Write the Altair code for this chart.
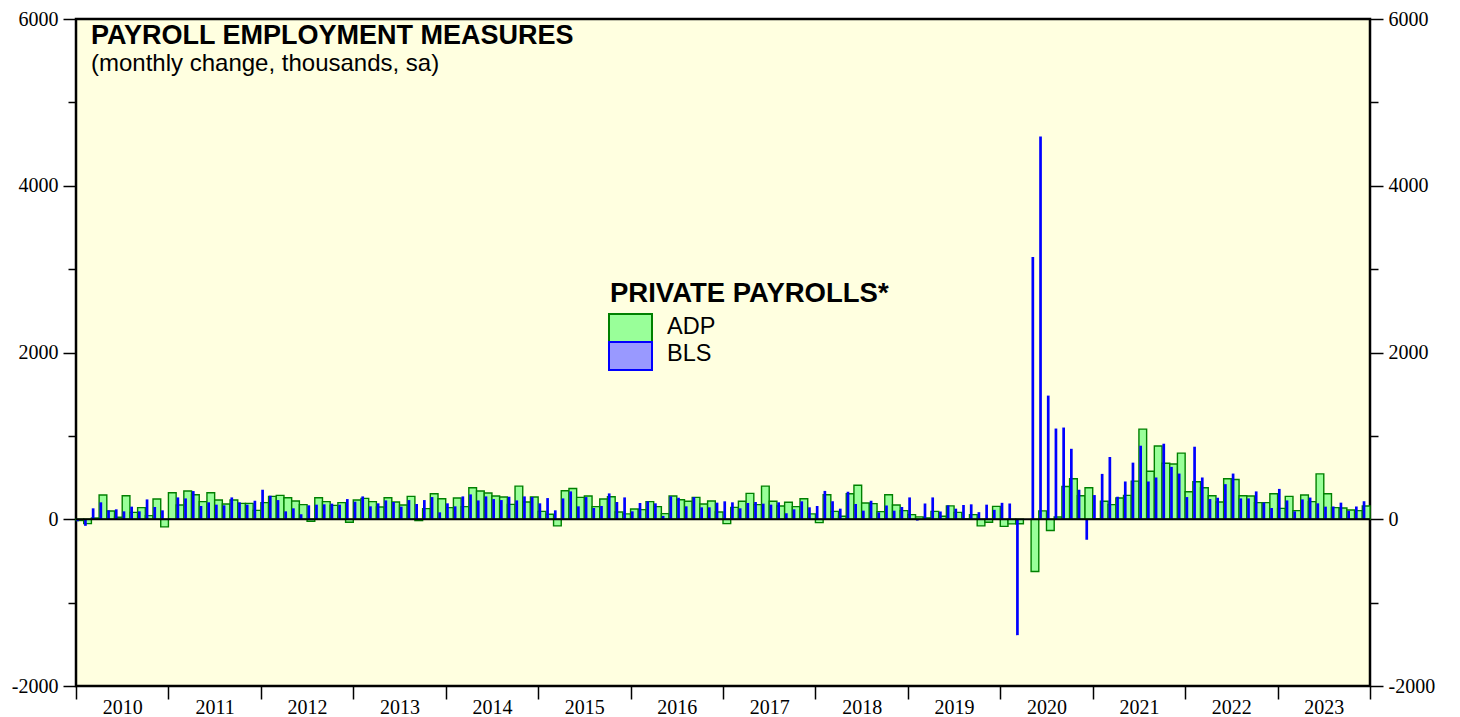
import altair as alt
import numpy as np
import pandas as pd

# ---------------- data ----------------
START_YEAR = 2010
# ADP private payrolls, monthly change (thousands), Jan 2010 .. Dec 2023 (Apr 2020 off scale)
adp_2010 = [-15, -52, 15, 290, 99, 24, 282, 83, 139, 44, 242, -91]
adp_2011 = [318, 171, 338, 294, 211, 318, 230, 183, 230, 191, 191, 107]
adp_2012 = [199, 274, 286, 258, 219, 175, -24, 258, 211, 167, 199, -36]
adp_2013 = [230, 250, 211, 147, 258, 207, 171, 274, -16, 127, 306, 246]
adp_2014 = [139, 254, 151, 377, 338, 314, 278, 266, 179, 397, 207, 266]
adp_2015 = [95, 60, -79, 342, 369, 262, 278, 151, 242, 270, 87, 64]
adp_2016 = [123, 115, 211, 151, 68, 278, 234, 215, 262, 183, 219, 87]
adp_2017 = [-52, 143, 215, 310, 175, 397, 215, 159, 203, 151, 246, 64]
adp_2018 = [-40, 294, 95, 36, 306, 407, 195, 187, 91, 294, 171, 103]
adp_2019 = [56, 28, 16, 95, 36, 161, 83, 4, 56, -79, -36, 155]
adp_2020 = [-85, -56, -54, None, -626, 100, -135, 27, 393, 485, 282, 377]
adp_2021 = [8, 215, 175, 254, 286, 457, 1081, 576, 878, 671, 663, 793]
adp_2022 = [330, 449, 377, 282, 207, 485, 477, 282, 278, 199, 199, 306]
adp_2023 = [131, 274, 103, 290, 211, 544, 306, 139, 135, 111, 103, 159]

# BLS private payrolls, monthly change (thousands)
bls_2010 = [-24, -79, 131, 203, 107, 119, 95, 151, 95, 238, 147, 107]
bls_2011 = [8, 262, 250, 338, 159, 203, 175, 167, 262, 203, 175, 222]
bls_2012 = [354, 282, 230, 95, 131, 60, 167, 175, 179, 187, 175, 242]
bls_2013 = [211, 274, 155, 191, 226, 207, 151, 230, 183, 230, 266, 83]
bls_2014 = [191, 155, 274, 298, 226, 274, 242, 230, 270, 226, 274, 266]
bls_2015 = [191, 254, 107, 250, 334, 155, 266, 135, 159, 310, 207, 262]
bls_2016 = [95, 195, 215, 191, 40, 274, 258, 155, 266, 143, 143, 199]
bls_2017 = [215, 203, 131, 195, 207, 187, 175, 203, 72, 119, 215, 143]
bls_2018 = [159, 340, 216, 127, 330, 183, 103, 222, 83, 165, 103, 147]
bls_2019 = [262, -16, 189, 262, 93, 167, 127, 171, 179, 85, 175, 113]
bls_2020 = [197, 189, -1390, None, 3145, 4590, 1483, 1088, 1100, 845, 354, -246]
bls_2021 = [290, 544, 747, 270, 453, 679, 882, 453, 501, 906, 628, 548]
bls_2022 = [266, 870, 501, 242, 258, 421, 548, 250, 250, 334, 201, 135]
bls_2023 = [364, 226, 95, 238, 260, 191, 151, 153, 199, 101, 153, 216]

year_ticks = list(range(2010, 2025))
y_ticks = list(range(-2000, 6001, 1000))
series_names = ["ADP", "BLS"]
title_text = "PAYROLL EMPLOYMENT MEASURES"
subtitle_text = "(monthly change, thousands, sa)"
legend_title = "PRIVATE PAYROLLS*"

adp = (adp_2010 + adp_2011 + adp_2012 + adp_2013 + adp_2014 + adp_2015 + adp_2016
       + adp_2017 + adp_2018 + adp_2019 + adp_2020 + adp_2021 + adp_2022 + adp_2023)
bls = (bls_2010 + bls_2011 + bls_2012 + bls_2013 + bls_2014 + bls_2015 + bls_2016
       + bls_2017 + bls_2018 + bls_2019 + bls_2020 + bls_2021 + bls_2022 + bls_2023)

k = np.arange(len(adp))
t = START_YEAR + k / 12.0
df = pd.DataFrame({
    "t0": t,
    "t1": t + 1 / 12.0,
    "b0": t + 0.05 / 12.0,
    "b1": t + 0.40 / 12.0,
    "adp": np.array(adp, dtype=float),
    "bls": np.array(bls, dtype=float),
})

# ---------------- layout ----------------
PAD_TOP = 11
W, H = 1294, 678 - PAD_TOP
AXIS_FONT = "Liberation Serif"
TEXT_FONT = "Liberation Sans"

x_vals = []
for y in year_ticks:
    x_vals.append(y)
    if y < year_ticks[-1]:
        x_vals.append(y + 0.5)

xscale = alt.Scale(domain=[year_ticks[0], year_ticks[-1]], nice=False, zero=False)
yscale = alt.Scale(domain=[y_ticks[0], y_ticks[-1]], nice=False, zero=False)

x_axis = alt.Axis(
    values=x_vals, title=None, domain=False, grid=False,
    tickSize=13, tickColor="black", tickWidth=1.5,
    tickOpacity={"condition": {"test": "datum.value % 1 === 0", "value": 1}, "value": 0},
    labelExpr="datum.value % 1 !== 0 ? '' + floor(datum.value) : ''",
    labelFont=AXIS_FONT, labelFontSize=20, labelColor="black",
    labelPadding=-2, labelOverlap=False, labelFlush=False, labelBaseline="top",
)


def y_axis(orient):
    return alt.Axis(
        orient=orient, values=y_ticks, title=None, domain=False, grid=False,
        tickColor="black", tickWidth=1.5,
        tickSize={"condition": {"test": "datum.value % 2000 === 0", "value": 13}, "value": 8},
        labelExpr="datum.value % 2000 === 0 ? '' + datum.value : ''",
        labelFont=AXIS_FONT, labelFontSize=20, labelColor="black",
        labelPadding=5, labelOverlap=False, labelFlush=False,
    )


base = alt.Chart(df)

adp_bars = base.mark_rect(fill="#99ff99", stroke="#008000", strokeWidth=1.4).encode(
    x=alt.X("t0:Q", scale=xscale, axis=x_axis),
    x2="t1:Q",
    y=alt.Y("adp:Q", scale=yscale, axis=y_axis("left")),
    y2=alt.datum(0),
)

bls_bars = base.mark_rect(fill="#0000ff").encode(
    x=alt.X("b0:Q", scale=xscale, axis=x_axis),
    x2="b1:Q",
    y=alt.Y("bls:Q", scale=yscale, axis=y_axis("right")),
    y2=alt.datum(0),
)

zero_rule = alt.Chart(pd.DataFrame({"zero": [0]})).mark_rule(color="black", strokeWidth=2).encode(
    y=alt.Y("zero:Q", scale=yscale, axis=None)
)

one = pd.DataFrame({"a": [0]})
DY = 15 - (8 + PAD_TOP)  # keep texts where the reference has them on the page


def label(text, x, y, size, bold=False):
    return alt.Chart(one).mark_text(
        align="left", baseline="alphabetic", font=TEXT_FONT, fontSize=size,
        fontWeight="bold" if bold else "normal", color="black",
    ).encode(x=alt.value(x), y=alt.value(y + DY), text=alt.value(text))


def swatch(x, y, w, h, fill, stroke):
    return alt.Chart(one).mark_rect(fill=fill, stroke=stroke, strokeWidth=2).encode(
        x=alt.value(x), x2=alt.value(x + w), y=alt.value(y + DY), y2=alt.value(y + h + DY)
    )


title = label(title_text, 15, 29, 27, bold=True)
subtitle = label(subtitle_text, 15, 56, 24)
leg_title = label(legend_title, 534, 287, 27.5, bold=True)
sw_adp = swatch(533, 299, 43, 28, "#99ff99", "#008000")
sw_bls = swatch(533, 327, 43, 28, "#9999ff", "#0000ff")
lab_adp = label(series_names[0], 591, 319, 23.5)
lab_bls = label(series_names[1], 591, 346, 23.5)

chart = (
    alt.layer(adp_bars, bls_bars, zero_rule, title, subtitle, leg_title,
              sw_adp, sw_bls, lab_adp, lab_bls)
    .resolve_scale(y="shared", x="shared")
    .resolve_axis(y="independent")
    .properties(
        width=W, height=H,
        autosize=alt.AutoSizeParams(type="none"),
        padding={"left": 68, "top": PAD_TOP, "right": 70, "bottom": 30},
        background="white",
    )
    .configure_view(stroke="black", strokeWidth=2.5, fill="#ffffe0")
)

chart.save("out.html", embed_options={"renderer": "svg", "actions": False})
